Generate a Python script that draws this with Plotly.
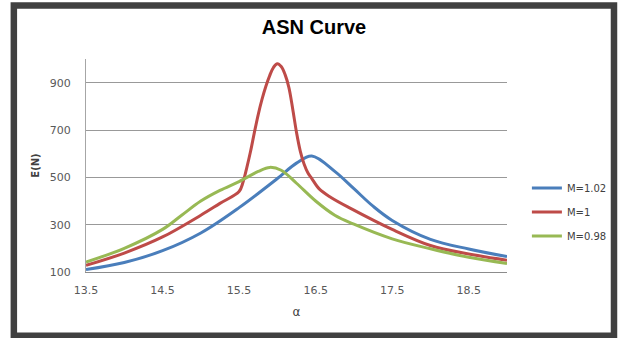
import plotly.graph_objects as go

# ---- data ----
x_blue = [13.5, 14.0, 14.5, 15.0, 15.5, 16.0, 16.25, 16.45, 16.75, 17.0, 17.25, 17.5, 18.0, 18.5, 19.0]
y_blue = [110, 140, 190, 265, 372, 495, 560, 590, 525, 452, 378, 318, 238, 197, 165]

x_red = [13.5, 14.0, 14.5, 15.0, 15.25, 15.5, 15.55, 15.6, 15.65, 15.7, 15.75, 15.8, 15.85, 15.9, 15.95,
         16.0, 16.05, 16.1, 16.15, 16.2, 16.25, 16.3, 16.35, 16.4, 16.45, 16.55, 16.7, 16.95,
         17.5, 18.0, 18.5, 19.0]
y_red = [128, 180, 248, 340, 390, 440, 478, 540, 610, 690, 765, 830, 885, 930, 965,
         980, 968, 935, 880, 790, 690, 610, 555, 518, 495, 450, 415, 370,
         280, 212, 176, 150]

x_green = [13.5, 14.0, 14.5, 14.75, 15.0, 15.25, 15.5, 15.75, 15.9, 16.05, 16.25, 16.5, 16.75, 17.0,
           17.5, 18.0, 18.5, 19.0]
y_green = [142, 200, 280, 340, 400, 445, 482, 525, 542, 530, 475, 400, 340, 302,
           240, 198, 162, 136]

series_names = ["M=1.02", "M=1", "M=0.98"]
series_colors = ["#4A7EBB", "#BE4B48", "#98B954"]

x_tickvals = [13.5, 14.5, 15.5, 16.5, 17.5, 18.5]
x_ticktext = ["13.5", "14.5", "15.5", "16.5", "17.5", "18.5"]
y_tickvals = [100, 300, 500, 700, 900]
y_ticktext = ["100", "300", "500", "700", "900"]

# ---- layout geometry ----
W, H = 624, 338
ML, MR, MT, MB = 86, 115, 59, 66
PW, PH = W - ML - MR, H - MT - MB


def px_to_paper_x(px):
    return (px - ML) / PW


def px_to_paper_y(py):
    return (H - MB - py) / PH


fig = go.Figure()
legend_ids = ["legend", "legend2", "legend3"]
for xs, ys, name, col, lg in zip([x_blue, x_red, x_green], [y_blue, y_red, y_green],
                                 series_names, series_colors, legend_ids):
    fig.add_trace(go.Scatter(x=xs, y=ys, name=name, mode="lines",
                             line=dict(color=col, width=3, shape="spline", smoothing=1.0),
                             legend=lg))

legend_common = dict(font=dict(family="DejaVu Sans", size=10, color="#404040"),
                     bgcolor="rgba(0,0,0,0)", borderwidth=0, itemwidth=30,
                     xanchor="left", yanchor="middle", x=px_to_paper_x(529))
leg_y = [188, 212, 236]

fig.update_layout(
    width=W, height=H,
    margin=dict(l=ML, r=MR, t=MT, b=MB, pad=0),
    paper_bgcolor="white", plot_bgcolor="white",
    showlegend=True,
    title=dict(text="<b>ASN Curve</b>", x=314 / W, xref="container", xanchor="center",
               y=1 - 27 / H, yref="container", yanchor="middle",
               font=dict(family="Liberation Sans", size=20, color="#000000")),
    legend=dict(legend_common, y=px_to_paper_y(leg_y[0])),
    legend2=dict(legend_common, y=px_to_paper_y(leg_y[1])),
    legend3=dict(legend_common, y=px_to_paper_y(leg_y[2])),
    xaxis=dict(range=[13.5, 19.0], tickvals=x_tickvals, ticktext=x_ticktext,
               showgrid=False, zeroline=False, showline=True, linecolor="#8c8c8c", linewidth=1,
               ticks="", ticklabelstandoff=8,
               tickfont=dict(family="DejaVu Sans", size=11, color="#595959"),
               title=dict(text="α", standoff=11,
                          font=dict(family="DejaVu Sans", size=12, color="#404040"))),
    yaxis=dict(range=[100, 1000], tickvals=y_tickvals, ticktext=y_ticktext,
               showgrid=True, gridcolor="#999999", gridwidth=1, zeroline=False,
               showline=True, linecolor="#a6a6a6", linewidth=1,
               ticks="", ticklabelstandoff=12,
               tickfont=dict(family="DejaVu Sans", size=11, color="#595959"),
               title=dict(text="<b>E(N)</b>", standoff=8,
                          font=dict(family="DejaVu Sans", size=10, color="#404040"))),
    shapes=[dict(type="rect", xref="paper", yref="paper",
                 x0=px_to_paper_x(13.5), x1=px_to_paper_x(616.5),
                 y0=px_to_paper_y(335.7), y1=px_to_paper_y(5.5),
                 line=dict(color="#404040", width=6.5), fillcolor="rgba(0,0,0,0)",
                 layer="above")],
)

fig.write_html("out.html")
